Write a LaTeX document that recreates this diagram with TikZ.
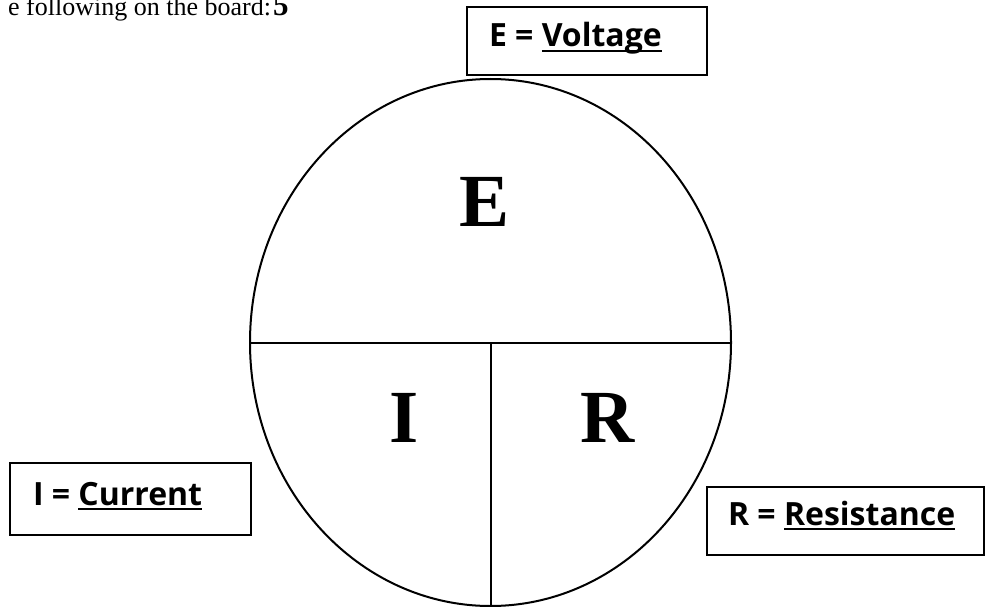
\documentclass[tikz,border=0pt]{standalone}
\usepackage{fontspec}
\setmainfont{Liberation Serif}
\newfontfamily\keyfont{Open Sans}
\usetikzlibrary{shapes.geometric}

% thick underline for the key words
\newcommand{\ulword}[1]{\setbox0\hbox{#1}\rlap{\rule[-5pt]{\wd0}{2pt}}\box0}

\tikzset{
    lawcircle/.style={draw, ellipse, inner sep=0pt, minimum width=481pt, minimum height=527pt},
    bigletter/.style={font=\fontsize{75}{80}\selectfont\bfseries},
    keybox/.style={draw, fill=white, inner sep=0pt},
    keytext/.style={font=\keyfont\bfseries\fontsize{32}{38}\selectfont, inner sep=0pt}
}

\begin{document}
\begin{tikzpicture}[x=1pt, y=-1pt, line width=2pt]
    \useasboundingbox (0,0) rectangle (985,607);

    % Text line cut off at the top
    \node[anchor=base east, inner sep=0pt, font=\fontsize{26}{30}\selectfont] (board) at (272,16) {e following on the board:};
    \node[anchor=base west, inner sep=0pt, font=\fontsize{31}{36}\selectfont\bfseries] (note) at (board.base east) {5};

    % Circle of Ohm's law
    \node[lawcircle] (law) at (490.5,342.5) {};
    \draw (law.west) -- (law.east);
    \draw (law.center) -- (law.south);

    % Letters in the circle
    \node[bigletter] (E) at (485,202) {E};
    \node[bigletter] (I) at (404,418) {I};
    \node[bigletter] (R) at (608,418) {R};

    % Voltage key
    \node[keybox, minimum width=240pt, minimum height=68pt] (vbox) at (587,41) {};
    \node[keytext, anchor=base west] (vtext) at (488,47) {E = \ulword{Voltage}};

    % Current key
    \node[keybox, minimum width=241pt, minimum height=72pt] (cbox) at (130.5,499) {};
    \node[keytext, anchor=base west] (ctext) at (32,505) {I = \ulword{Current}};

    % Resistance key
    \node[keybox, minimum width=277pt, minimum height=68pt] (rbox) at (845.5,521) {};
    \node[keytext, anchor=base west] (rtext) at (727,525) {R = \ulword{Resistance}};
\end{tikzpicture}
\end{document}
